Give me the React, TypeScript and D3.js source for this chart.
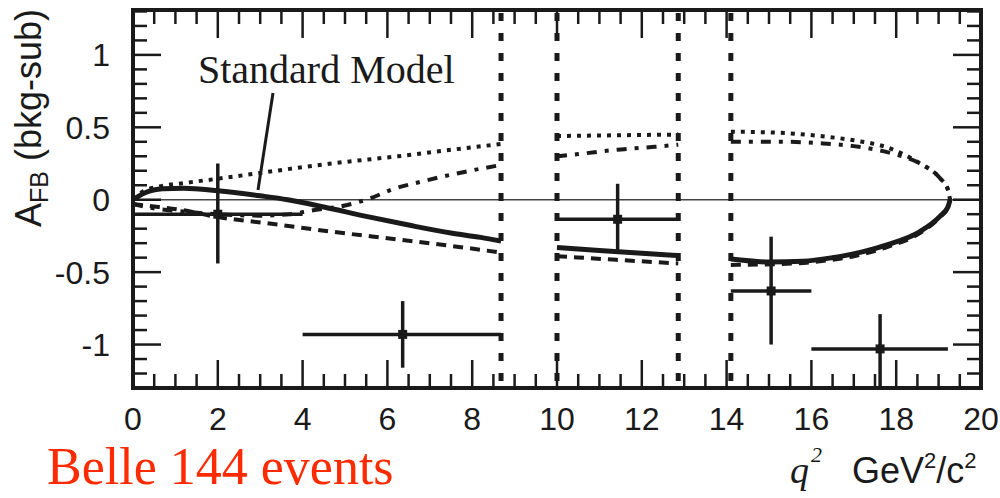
import React from "react";
import * as d3 from "d3";

// ---- data ----
const xTicksMajor = [0, 2, 4, 6, 8, 10, 12, 14, 16, 18, 20];
const yTicksMajor = [-1, -0.5, 0, 0.5, 1];
const yTickLabels = ["-1", "-0.5", "0", "0.5", "1"];
const vetoEdges = [8.68, 10.0, 12.86, 14.1];

// Belle measurement (bins)
const binCenter = [2.0, 6.36, 11.43, 15.05, 17.62];
const binValue = [-0.1, -0.93, -0.135, -0.63, -1.03];
const binLow = [0, 4.0, 10.0, 14.1, 16.0];
const binHigh = [4.0, 8.68, 12.86, 16.0, 19.22];
const errTop = [0.25, -0.7, 0.11, -0.255, -0.79];
const errBottom = [-0.44, -1.16, -0.37, -1.0, -1.29];

// Standard Model (solid)
const smLow = [[0, 0.0], [0.3, 0.05], [0.7, 0.075], [1.2, 0.08], [2, 0.062], [3, 0.027], [3.65, 0], [4.5, -0.05], [5.5, -0.115], [6.5, -0.175], [7.5, -0.23], [8.2, -0.26], [8.68, -0.285]];
const smMid = [[10.0, -0.33], [11, -0.35], [12, -0.37], [12.86, -0.385]];
const smHigh = [[14.1, -0.41], [15.0, -0.43], [15.8, -0.425], [16.5, -0.4], [17.2, -0.36], [17.8, -0.31], [18.56, -0.22], [19.03, -0.115], [19.22, -0.05], [19.27, 0]];

// Dotted model
const dotLow = [[0, 0], [0.25, 0.06], [0.6, 0.09], [1.2, 0.115], [2, 0.145], [3, 0.185], [4.67, 0.25], [6.25, 0.3], [7.8, 0.355], [8.68, 0.385]];
const dotMid = [[10.0, 0.44], [11.4, 0.445], [12.86, 0.45]];
const dotHigh = [[14.1, 0.47], [15.4, 0.46], [16.2, 0.44], [17.0, 0.41], [17.8, 0.36], [18.56, 0.25], [19.03, 0.15], [19.22, 0.07], [19.27, 0]];

// Dash-dot model
const dashDotLow = [[0, -0.03], [0.5, -0.06], [1.13, -0.08], [2, -0.1], [3, -0.11], [3.7, -0.1], [4.2, -0.075], [5.0, -0.04], [5.6, 0.01], [6.1, 0.07], [6.8, 0.125], [7.7, 0.185], [8.68, 0.24]];
const dashDotMid = [[10.0, 0.3], [10.5, 0.315], [11.4, 0.345], [12.3, 0.365], [12.86, 0.38]];
const dashDotHigh = [[14.1, 0.4], [15.4, 0.4], [16.2, 0.39], [17.0, 0.37], [17.9, 0.32], [18.56, 0.25], [19.03, 0.15], [19.22, 0.07], [19.27, 0]];

// Dashed model
const dashLow = [[0, -0.03], [0.6, -0.05], [1.13, -0.07], [2, -0.12], [3.1, -0.16], [4.67, -0.22], [6.25, -0.275], [7.8, -0.33], [8.68, -0.365]];
const dashMid = [[10.0, -0.39], [11.4, -0.415], [12.86, -0.44]];
const dashHigh = [[14.1, -0.45], [15.2, -0.445], [16.2, -0.425], [17.0, -0.39], [17.8, -0.325], [18.56, -0.23], [19.03, -0.12], [19.22, -0.05], [19.27, 0]];

const SANS = "'Liberation Sans', Arial, Helvetica, sans-serif";
const SERIF = "'Liberation Serif', 'Times New Roman', Times, serif";

export default function App() {
  const W = 1000;
  const H = 498;
  const x = d3.scaleLinear().domain([0, 20]).range([133, 981]);
  const y = d3.scaleLinear().domain([-1.3, 1.31]).range([388, 10]);
  const line = d3
    .line<number[]>()
    .x((d) => x(d[0]))
    .y((d) => y(d[1]))
    .curve(d3.curveMonotoneX);

  const xMinor = d3.range(0, 20.001, 0.5).filter((v) => Math.abs(v / 2 - Math.round(v / 2)) > 1e-6);
  const yMinor = d3.range(-13, 14, 1).map((v) => v / 10).filter((v) => Math.abs(v * 2 - Math.round(v * 2)) > 1e-6);

  const [x0, x1] = x.range();
  const [yb, yt] = y.range();
  const MAJ = 28;
  const MIN = 14;
  const ink = "#1a1a1a";

  const curves = [
    { segs: [dashLow, dashMid, dashHigh], width: 4, dash: "10 7" },
    { segs: [dashDotLow, dashDotMid, dashDotHigh], width: 4, dash: "10 8 4 8" },
    { segs: [dotLow, dotMid, dotHigh], width: 4, dash: "4 6" },
    { segs: [smLow, smMid, smHigh], width: 5, dash: undefined as string | undefined },
  ];

  return (
    <svg width={W} height={H} style={{ position: "absolute", left: 0, top: 0, background: "#fff" }}>
      {/* zero line */}
      <line x1={x0} x2={x1} y1={y(0)} y2={y(0)} stroke="#444" strokeWidth={1.6} />

      {/* veto region boundaries */}
      {vetoEdges.map((q, i) => (
        <line key={"v" + i} x1={x(q)} x2={x(q)} y1={yt + 2} y2={yb} stroke={ink} strokeWidth={5} strokeDasharray="8 12" strokeDashoffset={-1} />
      ))}

      {/* model curves */}
      {curves.map((c, i) =>
        c.segs.map((s, j) => (
          <path key={"c" + i + "-" + j} d={line(s) || ""} fill="none" stroke={ink} strokeWidth={c.width} strokeDasharray={c.dash} strokeLinejoin="round" />
        ))
      )}

      {/* data points */}
      {binCenter.map((q, i) => (
        <g key={"p" + i} stroke={ink} strokeWidth={3.5}>
          <line x1={x(binLow[i])} x2={x(binHigh[i])} y1={y(binValue[i])} y2={y(binValue[i])} />
          <line x1={x(q)} x2={x(q)} y1={y(errTop[i])} y2={y(errBottom[i])} />
          <rect x={x(q) - 4.5} y={y(binValue[i]) - 4.5} width={9} height={9} fill={ink} stroke="none" />
        </g>
      ))}

      {/* ticks */}
      <g stroke={ink} strokeWidth={2.5}>
        {xTicksMajor.map((v) => (
          <g key={"xm" + v}>
            <line x1={x(v)} x2={x(v)} y1={yb} y2={yb - MAJ} />
            <line x1={x(v)} x2={x(v)} y1={yt} y2={yt + MAJ} />
          </g>
        ))}
        {xMinor.map((v) => (
          <g key={"xn" + v}>
            <line x1={x(v)} x2={x(v)} y1={yb} y2={yb - MIN} />
            <line x1={x(v)} x2={x(v)} y1={yt} y2={yt + MIN} />
          </g>
        ))}
        {yTicksMajor.map((v) => (
          <g key={"ym" + v}>
            <line x1={x0} x2={x0 + MAJ} y1={y(v)} y2={y(v)} />
            <line x1={x1} x2={x1 - MAJ} y1={y(v)} y2={y(v)} />
          </g>
        ))}
        {yMinor.map((v) => (
          <g key={"yn" + v}>
            <line x1={x0} x2={x0 + MIN} y1={y(v)} y2={y(v)} />
            <line x1={x1} x2={x1 - MIN} y1={y(v)} y2={y(v)} />
          </g>
        ))}
      </g>

      {/* frame */}
      <rect x={x0} y={yt} width={x1 - x0} height={yb - yt} fill="none" stroke={ink} strokeWidth={4} />

      {/* tick labels */}
      <g fontFamily={SANS} fontSize={32} fill={ink}>
        {xTicksMajor.map((v) => (
          <text key={"xl" + v} x={x(v)} y={430} textAnchor="middle">
            {String(v)}
          </text>
        ))}
        {yTicksMajor.map((v, i) => (
          <text key={"yl" + v} x={110} y={y(v) + 11.5} textAnchor="end">
            {yTickLabels[i]}
          </text>
        ))}
      </g>

      {/* y-axis title */}
      <text transform={`translate(41, 118) rotate(-90)`} textAnchor="middle" fontFamily={SANS} fontSize={36} fill={ink}>
        A<tspan fontSize={25} dy={7}>FB</tspan>
        <tspan dy={-7}> (bkg-sub)</tspan>
      </text>

      {/* x-axis title */}
      <text x={790} y={483} fontFamily={SERIF} fontStyle="italic" fontSize={38} fill={ink}>
        q
      </text>
      <text x={811} y={462} fontFamily={SERIF} fontStyle="italic" fontSize={22} fill={ink}>
        2
      </text>
      <text x={852} y={483} fontFamily={SANS} fontSize={36} fill={ink}>
        GeV<tspan fontSize={22} dy={-15}>2</tspan>
        <tspan dy={15}>/c</tspan>
        <tspan fontSize={22} dy={-15}>2</tspan>
      </text>

      {/* annotation */}
      <text x={198} y={83} fontFamily={SERIF} fontSize={40} fill={ink}>
        Standard Model
      </text>
      <line x1={273} y1={93} x2={258} y2={190} stroke={ink} strokeWidth={3} />

      <text x={47} y={484} fontFamily={SERIF} fontSize={52} fill="#ff2a00">
        Belle 144 events
      </text>
    </svg>
  );
}
